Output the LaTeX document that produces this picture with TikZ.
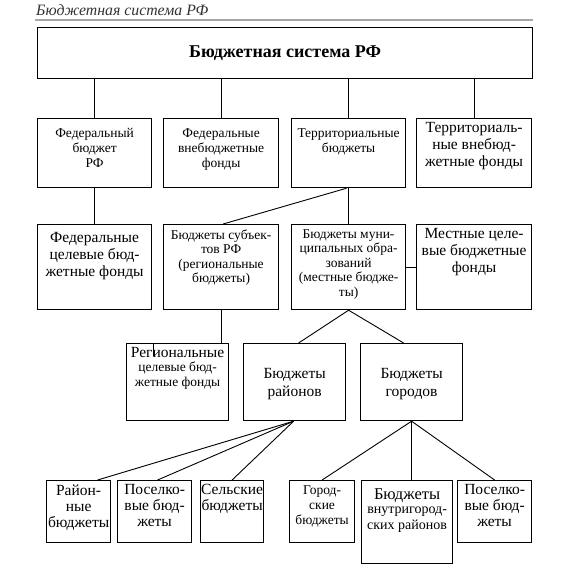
\documentclass[tikz,border=0pt]{standalone}
\usepackage{fontspec}
\setmainfont{Liberation Serif}
\newcommand\smf{\fontsize{13.5}{15}\selectfont}
\newcommand\lgf{\fontsize{15.5}{17}\selectfont}
\newcommand\bx[7]{\node[boxst, anchor=north west] (#1) at (#2,#3) {\parbox[t][#5pt][t]{#4pt}{\centering\vspace*{#6pt}#7}};}
\tikzset{
  boxst/.style={draw=black, line width=1.2pt, inner sep=0pt, fill=white},
  conn/.style={draw=black, line width=0.9pt}
}
\begin{document}
\begin{tikzpicture}[x=1pt,y=-1pt]
\useasboundingbox[fill=white] (0,0) rectangle (588,573);
% header
\node[anchor=base west, inner sep=0pt, text=black!80] (title) at (36,15) {\fontsize{15.8}{17}\selectfont\itshape Бюджетная система РФ};
\draw[draw=black!35, line width=1.5pt] (35,20) -- (533,20);
% top
\node[boxst, anchor=north west, minimum width=495pt, minimum height=51pt] (top) at (37,27) {\fontsize{18}{20}\selectfont\bfseries Бюджетная система РФ};
% row 2
\bx{A1}{37}{118}{114}{69}{10}{\smf Федеральный\\бюджет\\РФ}
\bx{A2}{163}{118}{115}{69}{10}{\smf Федеральные\\внебюджетные\\фонды}
\bx{A3}{291}{118}{114}{69}{10}{\smf Территориальные\\бюджеты}
\bx{A4}{416}{118}{115}{69}{4}{\lgf Территориаль-\\ные внебюд-\\жетные фонды}
% row 3
\bx{B1}{37}{224}{114}{85}{8}{\lgf Федеральные\\целевые бюд-\\жетные фонды}
\bx{B2}{163}{224}{115}{85}{5}{\smf\baselineskip=14.5pt Бюджеты субъек-\\тов РФ\\(региональные\\бюджеты)}
\bx{B3}{291}{224}{114}{85}{5}{\smf\baselineskip=14.5pt Бюджеты муни-\\ципальных обра-\\зований\\(местные бюдже-\\ты)}
\bx{B4}{416}{224}{115}{85}{4}{\lgf Местные целе-\\вые бюджетные\\фонды}
% row 4
\bx{R}{126}{343}{102}{77}{4}{{\lgf Региональные}\\[-1pt]\smf целевые бюд-\\жетные фонды}
\bx{D}{243}{343}{102}{77}{25}{\lgf\baselineskip=18pt Бюджеты\\районов}
\bx{G}{360}{343}{102}{77}{25}{\lgf\baselineskip=18pt Бюджеты\\городов}
% row 5
\bx{a}{46}{480}{64}{62}{4}{\lgf\baselineskip=16pt Район-\\ные\\бюджеты}
\bx{b}{117}{480}{74}{62}{4}{\lgf\baselineskip=16pt Поселко-\\вые бюд-\\жеты}
\bx{c}{200}{480}{63}{62}{4}{\lgf\baselineskip=16pt Сельские\\бюджеты}
\bx{d}{289}{480}{65}{62}{5}{\smf\baselineskip=15pt Город-\\ские\\бюджеты}
\bx{e}{361}{480}{91}{83}{8}{{\fontsize{16.5}{18}\selectfont Бюджеты}\\[-1pt]\fontsize{14}{15.5}\selectfont внутригород-\\ских районов}
\bx{f}{457}{480}{74}{62}{4}{\lgf\baselineskip=16pt Поселко-\\вые бюд-\\жеты}
% connectors
\foreach \n in {A1,A2,A3,A4} \draw[conn] (\n.north |- top.south) -- (\n.north);
\draw[conn] (A1.south) -- (B1.north);
\draw[conn] ([xshift=-2pt]A3.south) -- ([xshift=2pt]B2.north);
\draw[conn] (A3.south) -- (B3.north);
\draw[conn] (B3.east) -- (B4.west);
\draw[conn] (B2.south) -- (B2.south |- R.north);
\draw[conn] (B3.south) -- ([xshift=4pt]D.north);
\draw[conn] (B3.south) -- ([xshift=-8pt]G.north);
\draw[conn] ([xshift=-1pt]D.south) -- ([xshift=19pt]a.north);
\draw[conn] ([xshift=-1pt]D.south) -- ([xshift=3pt]b.north);
\draw[conn] ([xshift=-1pt]D.south) -- (c.north);
\draw[conn] (G.south) -- (d.north);
\draw[conn] (G.south) -- (G.south |- e.north);
\draw[conn] (G.south) -- (f.north);
\draw[draw=black, line width=0.5pt] ([xshift=27pt]R.north west) -- ([xshift=27pt,yshift=-13pt]R.north west);
\end{tikzpicture}
\end{document}
